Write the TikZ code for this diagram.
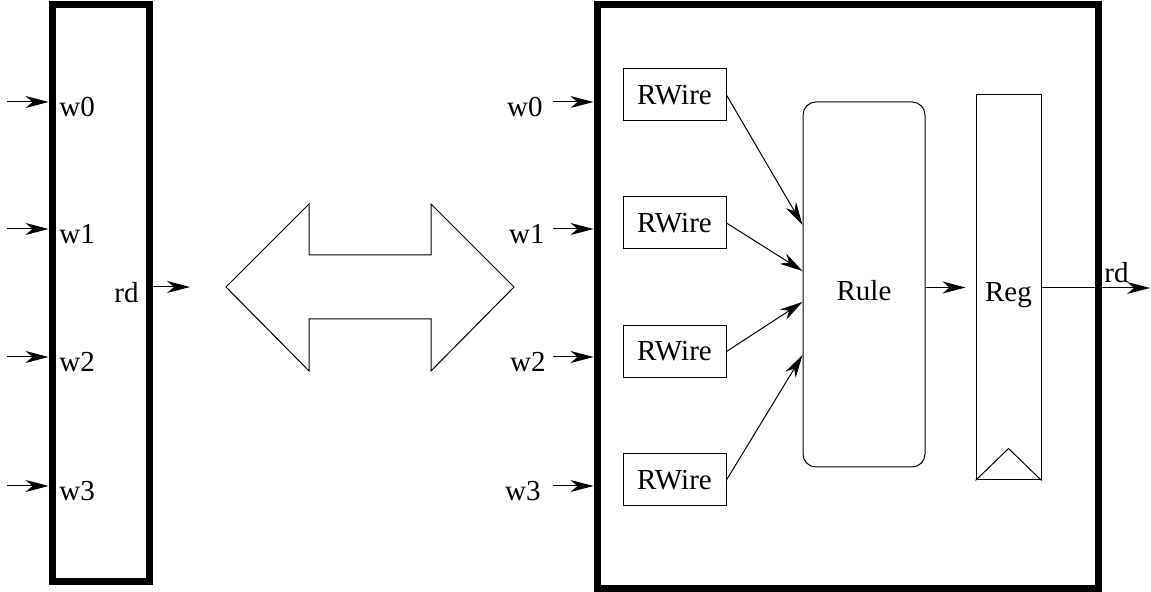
\documentclass[tikz,border=0pt]{standalone}
\usepackage{fontspec}
\setmainfont{Liberation Serif}
\usetikzlibrary{arrows.meta,calc,positioning}
\tikzstyle{thickbox} = [draw, line width=3.5pt, inner sep=0pt]
\tikzstyle{wirebox} = [draw, line width=0.5pt, minimum width=51.5pt, minimum height=26pt, inner sep=0pt, font=\fontsize{14.5}{17}\selectfont]
\tikzstyle{arrow} = [line width=0.5pt, -{Stealth[length=11.5pt,width=6pt,inset=3.5pt]}]
\tikzstyle{lbl} = [inner sep=0pt, font=\fontsize{14.5}{17}\selectfont]

\begin{document}
\begin{tikzpicture}[x=0.5pt,y=-0.5pt]
\useasboundingbox (0,0) rectangle (1151,592);
% left module
\draw (100.5,293.5) node (lbox) [thickbox, minimum width=48.5pt, minimum height=288.5pt] {};
\coordinate (lin0) at (7,102);
\coordinate (lin1) at (7,229);
\coordinate (lin2) at (7,357);
\coordinate (lin3) at (7,486);
\draw[arrow] (lin0) -- (lin0 -| lbox.west);
\draw[arrow] (lin1) -- (lin1 -| lbox.west);
\draw[arrow] (lin2) -- (lin2 -| lbox.west);
\draw[arrow] (lin3) -- (lin3 -| lbox.west);
\node (lw0) [lbl, anchor=west] at (59,107) {w0};
\node (lw1) [lbl, anchor=west] at (59,234) {w1};
\node (lw2) [lbl, anchor=west] at (59,362) {w2};
\node (lw3) [lbl, anchor=west] at (59,491) {w3};
\node (lrd) [lbl, anchor=east] at (139,293) {rd};
\coordinate (lout) at (190,287);
\draw[arrow] (lout -| lbox.east) -- (lout);
%
% double arrow
\draw[line width=0.5pt] (226,287) -- (309,204) -- (309,255) -- (431,255) -- (431,204)
  -- (514,287) -- (431,371) -- (431,319) -- (309,319) -- (309,371) -- cycle;
%
% right module
\draw (847.5,297) node (bigbox) [thickbox, minimum width=250.5pt, minimum height=292pt] {};
\coordinate (rin0) at (553,102);
\coordinate (rin1) at (553,229);
\coordinate (rin2) at (553,357);
\coordinate (rin3) at (553,486);
\draw[arrow] (rin0) -- (rin0 -| bigbox.west);
\draw[arrow] (rin1) -- (rin1 -| bigbox.west);
\draw[arrow] (rin2) -- (rin2 -| bigbox.west);
\draw[arrow] (rin3) -- (rin3 -| bigbox.west);
\node (rw0) [lbl, anchor=east] at (543,107) {w0};
\node (rw1) [lbl, anchor=east] at (545,234) {w1};
\node (rw2) [lbl, anchor=east] at (546,362) {w2};
\node (rw3) [lbl, anchor=east] at (541,491) {w3};
\draw (674.5,95) node (rwire0) [wirebox] {RWire};
\draw (674.5,223) node (rwire1) [wirebox] {RWire};
\draw (674.5,351.5) node (rwire2) [wirebox] {RWire};
\draw (674.5,480) node (rwire3) [wirebox] {RWire};
\draw (864,284.5) node (rule) [wirebox, rounded corners=6.5pt, minimum width=61pt, minimum height=182.5pt, text height=16pt, text depth=0pt] {Rule};
\draw (1008.5,287.5) node (reg) [wirebox, minimum width=32.5pt, minimum height=192.5pt, text height=14pt, text depth=0pt] {Reg};
\draw[line width=0.5pt] (reg.south west) -- ($(reg.south)+(0,-32)$) -- (reg.south east);
\draw[arrow] (rwire0.east) -- ([yshift=29.75pt]rule.west);
\draw[arrow] (rwire1.east) -- ([yshift=6.75pt]rule.west);
\draw[arrow] (rwire2.east) -- ([yshift=-8.75pt]rule.west);
\draw[arrow] (rwire3.east) -- ([yshift=-35.25pt]rule.west);
\draw[arrow, shorten >=5pt] (rule.east |- reg.west) -- (reg.west);
\coordinate (rout) at (1150,288);
\draw[arrow] (reg.east |- rout) -- (rout);
\node (rrd) [lbl, anchor=west] at (1104,273) {rd};
\end{tikzpicture}
\end{document}
